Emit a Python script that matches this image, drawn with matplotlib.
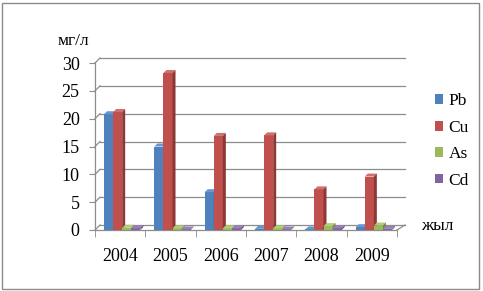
import numpy as np
import matplotlib.pyplot as plt
from matplotlib.patches import Polygon, Rectangle

years = ['2004', '2005', '2006', '2007', '2008', '2009']
pb = [20.8, 15.0, 6.8, 0.2, 0.1, 0.5]
cu = [21.2, 28.2, 16.9, 17.0, 7.3, 9.6]
as_ = [0.4, 0.3, 0.3, 0.3, 0.7, 0.8]
cd = [0.3, 0.1, 0.3, 0.1, 0.3, 0.2]
names = ['Pb', 'Cu', 'As', 'Cd']
colors = ['#4F81BD', '#C0504D', '#9BBB59', '#8064A2']
sides = ['#385D8A', '#8C3836', '#71893F', '#5C4776']
tops = ['#6A96CE', '#D0706D', '#B0CC75', '#9980B8']

plt.rcParams['font.family'] = ['Liberation Serif', 'DejaVu Serif']

W, H = 483, 291
fig = plt.figure(figsize=(W / 100, H / 100), dpi=100)
fig.patches.append(Rectangle((2 / W, 2 / H), 477 / W, 286 / H, transform=fig.transFigure,
                             fill=False, edgecolor='#8a8a8a', lw=1))

x0, x1, y0, y1 = 95, 397, 230, 63
ax = fig.add_axes([x0 / W, 1 - y0 / H, (x1 - x0) / W, (y0 - y1) / H])
ax.set_xlim(0, 6)
ax.set_ylim(0, 30)
ax.patch.set_alpha(0)
for s in ax.spines.values():
    s.set_visible(False)

# pixel -> data conversions
px_x = 6 / (x1 - x0)
px_y = 30 / (y0 - y1)
D = 5  # wall depth, px
gx, gy = D * px_x, D * px_y

# back wall gridlines + diagonals
for v in range(0, 31, 5):
    ax.plot([gx, 6 + 1.6 * gx], [v + gy, v + gy], color='#8c8c8c', lw=0.9, clip_on=False)
    ax.plot([0, gx], [v, v + gy], color='#8c8c8c', lw=0.9, clip_on=False)
ax.plot([0, 6], [0, 0], color='#8c8c8c', lw=0.9, clip_on=False)
ax.plot([6, 6 + 1.6 * gx], [0, gy], color='#8c8c8c', lw=0.9, clip_on=False)
ax.plot([0, 0], [0, 30], color='#8c8c8c', lw=0.9, clip_on=False)

# bars with pseudo-3D faces
bw = 0.18
bd = 3  # bar depth, px
bx, by = bd * px_x, bd * px_y
idx = np.arange(len(years))
for k, vals in enumerate([pb, cu, as_, cd]):
    left = idx + 0.18 + k * bw
    ax.bar(left, vals, width=bw, align='edge', color=colors[k], label=names[k], zorder=3)
    for l, v in zip(left, vals):
        ax.add_patch(Polygon([(l, v), (l + bw, v), (l + bw + bx, v + by), (l + bx, v + by)],
                             closed=True, color=tops[k], zorder=3, lw=0))
        ax.add_patch(Polygon([(l + bw, 0), (l + bw + bx, by), (l + bw + bx, v + by), (l + bw, v)],
                             closed=True, color=sides[k], zorder=3, lw=0))

ax.set_yticks(range(0, 31, 5))
ax.set_xticks(range(0, 7), minor=True)
ax.set_xticks(idx + 0.5)
ax.set_xticklabels(years)
ax.tick_params(axis='x', which='major', length=0, pad=13, labelsize=13)
ax.tick_params(axis='x', which='minor', length=5, color='#8c8c8c', direction='out')
ax.tick_params(axis='y', length=4, color='#8c8c8c', pad=7, labelsize=13)

fig.text(58 / W, 1 - 41 / H, 'мг/л', fontsize=12.5, va='center', ha='left')
fig.text(421 / W, 1 - 226 / H, 'жыл', fontsize=12.5, va='center', ha='left')

leg = ax.legend(loc='center left', bbox_to_anchor=(419 / W, 1 - 141 / H),
                bbox_transform=fig.transFigure, frameon=False, fontsize=12.5,
                handlelength=0.5, handleheight=0.5, handletextpad=0.3, labelspacing=0.6)

fig.savefig('out.png', dpi=100)
